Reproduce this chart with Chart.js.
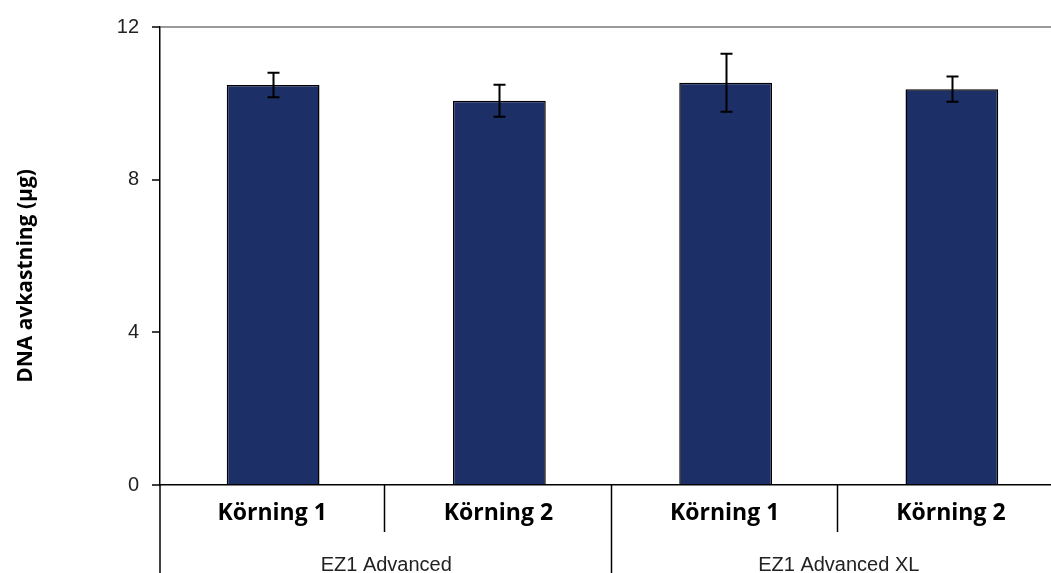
<!DOCTYPE html>
<html>
<head>
<meta charset="utf-8">
<script src="https://cdn.jsdelivr.net/npm/chart.js@4.4.1/dist/chart.umd.min.js"></script>
<style>
  html, body { margin: 0; padding: 0; background: #fff; overflow: hidden; }
  #wrap { position: relative; width: 1066px; height: 573px; }
</style>
</head>
<body>
<div id="wrap"><canvas id="c"></canvas></div>
<script>
// DNA yield per run, two instruments
const runLabels = ['Körning 1', 'Körning 2', 'Körning 1', 'Körning 2'];
const instrumentLabels = ['EZ1 Advanced', 'EZ1 Advanced XL'];
const runsPerInstrument = [2, 2];
const yieldMean = [10.48, 10.07, 10.54, 10.37];
const yieldError = [0.32, 0.42, 0.76, 0.33];
const yTicks = [0, 4, 8, 12];
const yTitle = 'DNA avkastning (µg)';

const BAR_FILL = '#1c2f66';
const AXIS = '#000';

// error bars drawn on top of each bar
const errorBars = {
  id: 'errorBars',
  afterDatasetsDraw(chart) {
    const { ctx, scales: { x, y } } = chart;
    ctx.save();
    ctx.strokeStyle = '#000';
    ctx.lineWidth = 2;
    yieldMean.forEach((v, i) => {
      const cx = Math.round(x.getPixelForValue(i)) + 0.5;
      const top = y.getPixelForValue(v + yieldError[i]);
      const bot = y.getPixelForValue(v - yieldError[i]);
      ctx.beginPath();
      ctx.moveTo(cx, top); ctx.lineTo(cx, bot);
      ctx.moveTo(cx - 6, top); ctx.lineTo(cx + 6, top);
      ctx.moveTo(cx - 6, bot); ctx.lineTo(cx + 6, bot);
      ctx.stroke();
    });
    ctx.restore();
  }
};

// two-level category labels with separators, plus the y title
const axisDecor = {
  id: 'axisDecor',
  afterDraw(chart) {
    const { ctx, chartArea: ca, scales: { x, y } } = chart;
    const H = chart.height;
    const n = runLabels.length;
    const step = (ca.right - ca.left) / n;
    ctx.save();
    ctx.strokeStyle = AXIS;
    ctx.lineWidth = 1.5;
    // y axis extends below the x axis
    ctx.beginPath();
    ctx.moveTo(ca.left, ca.bottom); ctx.lineTo(ca.left, H);
    ctx.stroke();
    // separators
    let idx = 0;
    const groupEnds = new Set();
    runsPerInstrument.forEach(c => { idx += c; groupEnds.add(idx); });
    for (let i = 1; i < n; i++) {
      const sx = Math.round(ca.left + step * i) - 1.5;
      ctx.beginPath();
      ctx.moveTo(sx, ca.bottom);
      ctx.lineTo(sx, groupEnds.has(i) ? H : ca.bottom + 47);
      ctx.stroke();
    }
    // run labels
    ctx.fillStyle = '#000';
    ctx.textAlign = 'center';
    ctx.textBaseline = 'middle';
    ctx.font = 'bold 23px "Open Sans"';
    runLabels.forEach((t, i) => {
      ctx.fillText(t, x.getPixelForValue(i) - 1, ca.bottom + 28);
    });
    // instrument labels
    ctx.font = '20px "Liberation Sans"';
    ctx.fillStyle = '#222';
    let start = 0;
    instrumentLabels.forEach((t, g) => {
      const cnt = runsPerInstrument[g];
      const cx = ca.left + step * (start + cnt / 2);
      ctx.fillText(t, cx, ca.bottom + 80);
      start += cnt;
    });
    // y title
    ctx.translate(26, 276);
    ctx.rotate(-Math.PI / 2);
    ctx.font = 'bold 21px "Open Sans"';
    ctx.fillStyle = '#000';
    ctx.fillText(yTitle, 0, 0);
    ctx.restore();
  }
};

new Chart(document.getElementById('c'), {
  type: 'bar',
  data: {
    labels: runLabels,
    datasets: [{
      data: yieldMean,
      backgroundColor: BAR_FILL,
      borderColor: '#000',
      borderWidth: 1.5,
      borderSkipped: 'bottom',
      barPercentage: 0.41,
      categoryPercentage: 1.0
    }]
  },
  options: {
    responsive: true,
    maintainAspectRatio: false,
    animation: false,
    layout: { padding: { top: 27, right: 1, bottom: 88, left: 0 } },
    plugins: { legend: { display: false }, tooltip: { enabled: false } },
    scales: {
      x: {
        ticks: { display: false },
        grid: { display: false, drawTicks: false },
        border: { display: true, color: AXIS, width: 1.5 }
      },
      y: {
        min: 0, max: 12,
        afterFit(scale) { scale.width = 160; },
        afterBuildTicks(scale) { scale.ticks = yTicks.map(v => ({ value: v })); },
        ticks: {
          padding: 13,
          color: '#222',
          font: { family: '"Liberation Sans"', size: 20 }
        },
        grid: {
          drawTicks: true,
          tickLength: 8,
          tickColor: AXIS,
          tickWidth: 1.5,
          color: ctx => (ctx.tick && ctx.tick.value === 12 ? '#9a9a9a' : 'rgba(0,0,0,0)'),
          lineWidth: 2
        },
        border: { display: true, color: AXIS, width: 1.5 }
      }
    }
  },
  plugins: [errorBars, axisDecor]
});
</script>
</body>
</html>
